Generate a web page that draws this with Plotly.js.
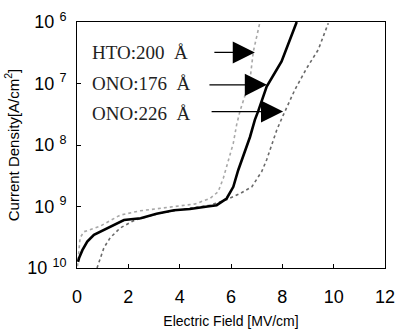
<!DOCTYPE html>
<html>
<head>
<meta charset="utf-8">
<script src="https://cdn.plot.ly/plotly-3.0.1.min.js"></script>
<style>html,body{margin:0;padding:0;background:#fff;}#chart{width:395px;height:336px;}</style>
</head>
<body>
<div id="chart"></div>
<script>
// Electric field [MV/cm] and current density [A/cm^2]
const ono176Field = [0.04, 0.08, 0.21, 0.40, 0.66, 1.18, 1.83, 2.48, 3.10, 3.78, 4.40, 5.08, 5.44, 5.83, 6.09, 6.28, 6.48, 6.74, 6.93, 7.06, 7.39, 7.97, 8.56];
const ono176J     = [1.26e-10, 1.45e-10, 1.95e-10, 2.69e-10, 3.47e-10, 4.47e-10, 6.03e-10, 6.46e-10, 7.6e-10, 8.71e-10, 9.1e-10, 1.00e-9, 1.05e-9, 1.35e-9, 2.09e-9, 3.89e-9, 6.46e-9, 1.35e-8, 2.57e-8, 3.55e-8, 8.91e-8, 2.29e-7, 1.0e-6];

const hto200Field = [0.02, 0.06, 0.12, 0.27, 0.90, 1.68, 2.45, 3.62, 4.60, 5.18, 5.50, 5.70, 5.89, 6.09, 6.22, 6.35, 6.74, 6.87, 7.13];
const hto200J     = [1.07e-10, 1.95e-10, 3.09e-10, 3.89e-10, 4.79e-10, 7.24e-10, 8.51e-10, 9.77e-10, 1.10e-9, 1.35e-9, 1.74e-9, 2.88e-9, 5.37e-9, 1.07e-8, 2.14e-8, 3.55e-8, 1.15e-7, 3.31e-7, 1.0e-6];

const ono226Field = [0.78, 0.90, 1.05, 1.29, 1.68, 2.26, 3.23, 4.21, 5.18, 5.83, 6.35, 6.81, 7.20, 7.39, 7.58, 7.78, 8.04, 8.49, 8.95, 9.40, 9.79];
const ono226J     = [1.0e-10, 1.45e-10, 2.14e-10, 3.09e-10, 4.47e-10, 6.03e-10, 7.76e-10, 9.12e-10, 1.05e-9, 1.29e-9, 1.62e-9, 2.09e-9, 3.72e-9, 5.75e-9, 1.0e-8, 1.74e-8, 3.09e-8, 7.94e-8, 1.78e-7, 3.55e-7, 9.55e-7];

const xTicks = [0, 2, 4, 6, 8, 10, 12];
const yTickVals = [1e-10, 1e-9, 1e-8, 1e-7, 1e-6];
const yTickText = ['10 <sup>10</sup>', '10 <sup>9</sup>', '10 <sup>8</sup>', '10 <sup>7</sup>', '10 <sup>6</sup>'];

const labels = ['HTO:200\u00a0\u00a0Å', 'ONO:176\u00a0\u00a0Å', 'ONO:226\u00a0\u00a0Å'];
const arrowTipField = [6.93, 7.40, 8.03];
const arrowTipJ = [3.2e-7, 9.5e-8, 3.5e-8];

const traces = [
  {x: hto200Field, y: hto200J, mode: 'lines', line: {color: '#a8a8a8', width: 1.6, dash: 'dot'}, name: labels[0]},
  {x: ono226Field, y: ono226J, mode: 'lines', line: {color: '#6a6a6a', width: 1.6, dash: 'dot'}, name: labels[2]},
  {x: ono176Field, y: ono176J, mode: 'lines', line: {color: '#000', width: 2.6}, name: labels[1]}
];

const labelY = [0.874, 0.752, 0.630];
const tailOffsets = [-42, -59, -73];
const annotations = [];
labels.forEach((t, i) => {
  annotations.push({xref: 'paper', yref: 'paper', x: 0.042, y: labelY[i], xanchor: 'left', yanchor: 'middle',
    text: t, showarrow: false, font: {family: 'Liberation Serif, Times New Roman, serif', size: 19, color: '#222'}});
  annotations.push({x: arrowTipField[i], y: Math.log10(arrowTipJ[i]), xref: 'x', yref: 'y', text: '',
    showarrow: true, arrowhead: 2, arrowsize: 3.4, arrowwidth: 1.3, arrowcolor: '#000', ax: tailOffsets[i], ay: 0, standoff: 0});
});

const layout = {
  width: 395, height: 336,
  margin: {l: 77, r: 10, t: 22, b: 68},
  paper_bgcolor: '#fff', plot_bgcolor: '#fff',
  showlegend: false,
  xaxis: {range: [0, 12], tickvals: xTicks, ticks: 'inside', ticklen: 4, tickcolor: '#000',
    showline: true, linecolor: '#000', linewidth: 1, mirror: true, showgrid: false, zeroline: false,
    ticklabelstandoff: 12, ticklabeloverflow: 'allow',
    tickfont: {family: 'Liberation Sans, Arial, sans-serif', size: 18, color: '#000'},
    title: {text: 'Electric Field [MV/cm]', standoff: 10, font: {family: 'Liberation Sans Narrow, Liberation Sans, Arial, sans-serif', size: 14, color: '#000'}}},
  yaxis: {type: 'log', range: [-10, -6], tickvals: yTickVals, ticktext: yTickText, ticks: 'inside', ticklen: 4, tickcolor: '#000',
    showline: true, linecolor: '#000', linewidth: 1, mirror: true, showgrid: false, zeroline: false,
    ticklabelstandoff: 6, ticklabeloverflow: 'allow',
    tickfont: {family: 'Liberation Sans, Arial, sans-serif', size: 18, color: '#000'},
    title: {text: 'Current Density[A/cm<sup>2</sup>]', standoff: 4, font: {family: 'Liberation Sans Narrow, Liberation Sans, Arial, sans-serif', size: 15, color: '#000'}}},
  annotations: annotations
};

Plotly.newPlot('chart', traces, layout, {displayModeBar: false, staticPlot: true});
</script>
</body>
</html>
